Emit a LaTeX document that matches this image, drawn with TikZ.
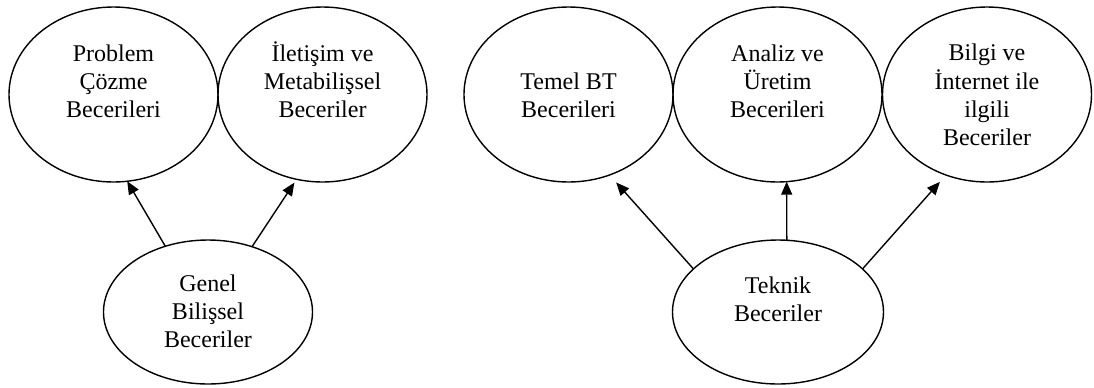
\documentclass[tikz,border=0pt]{standalone}
\usepackage{fontspec}
\setmainfont{Liberation Serif}
\usetikzlibrary{arrows.meta,shapes.geometric}
\newcommand\rows[1]{\begin{tabular}[t]{@{}c@{}}#1\end{tabular}}

\begin{document}
\begin{tikzpicture}[>={Triangle[length=6.5pt,width=5.5pt]},x=0.5pt,y=-0.5pt,
  skill/.style={ellipse,draw,line width=0.7pt,inner sep=0pt,outer sep=0pt,
    minimum width=104.5pt,minimum height=87.5pt},
  group/.style={skill,minimum height=72pt},
  txt/.style={font=\fontsize{12pt}{14pt}\selectfont},
  link/.style={->,line width=0.7pt}]
\useasboundingbox (0,0) rectangle (1094,387);
% genel bilissel beceriler
\node[skill,label={[txt,yshift=5.55pt]center:\rows{Problem\\Çözme\\Becerileri}}] (problem) at (113.5,94.5) {};
\node[skill,label={[txt,yshift=5.55pt]center:\rows{İletişim ve\\Metabilişsel\\Beceriler}}] (iletisim) at (322.5,94.5) {};
\node[group,label={[txt,yshift=-0.7pt]center:\rows{Genel\\Bilişsel\\Beceriler}}] (genel) at (208,312) {};
% teknik beceriler
\node[skill,label={[txt,yshift=-1.45pt]center:\rows{Temel BT\\Becerileri}}] (temel) at (568.5,94.5) {};
\node[skill,label={[txt,yshift=5.55pt]center:\rows{Analiz ve\\Üretim\\Becerileri}}] (analiz) at (777.5,94.5) {};
\node[skill,label={[txt,yshift=-1.45pt]center:\rows{Bilgi ve\\İnternet ile\\ilgili\\Beceriler}}] (bilgi) at (987,94.5) {};
\node[group,minimum width=105.5pt,label={[txt,yshift=5.3pt]center:\rows{Teknik\\Beceriler}}] (teknik) at (778,312) {};

\draw[link] (genel.123) -- (problem.-81);
\draw[link,shorten >=2pt] (genel.56) -- (iletisim.-107);
\draw[link,shorten >=5pt] (teknik.153) -- (temel.-63);
\draw[link] (teknik.83) -- (analiz.-84);
\draw[link,shorten >=4.6pt] (teknik.27) -- (bilgi.-117);
\end{tikzpicture}
\end{document}
